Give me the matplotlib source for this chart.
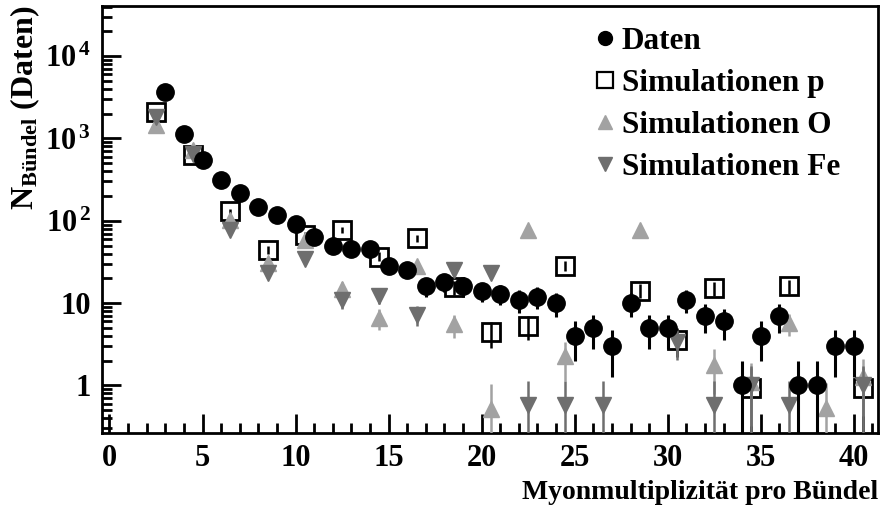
import numpy as np
import matplotlib
matplotlib.use("Agg")
import matplotlib.pyplot as plt
from matplotlib.lines import Line2D
from matplotlib.ticker import FixedLocator, FixedFormatter, LogLocator, NullFormatter, MultipleLocator

plt.rcParams["font.family"] = ["Liberation Serif", "DejaVu Serif"]
plt.rcParams["font.weight"] = "bold"
plt.rcParams["mathtext.fontset"] = "custom"
plt.rcParams["mathtext.rm"] = "Liberation Serif:bold"
plt.rcParams["mathtext.bf"] = "Liberation Serif:bold"
plt.rcParams["mathtext.it"] = "Liberation Serif:bold:italic"

# measured data (muon multiplicity per bundle)
data_x = list(range(3, 41))
data_y = [3700, 1135, 550, 315, 216, 148, 116, 91, 64, 50,
          45, 46, 28, 25, 16, 18, 16, 14, 13, 11,
          12, 10, 4, 5, 3, 10, 5, 5, 11, 7,
          6, 1, 4, 7, 1, 1, 3, 3]

# simulations at half-integer multiplicities
sim_x = [2.5, 4.5, 6.5, 8.5, 10.5, 12.5, 14.5, 16.5, 18.5, 20.5,
         22.5, 24.5, 26.5, 28.5, 30.5, 32.5, 34.5, 36.5, 38.5, 40.5]
sim_p = [2115, 630, 130, 44, 67, 77, 36.7, 61, 15.5, 4.4,
         5.3, 28.6, np.nan, 14.2, 3.6, 15.2, 0.93, 15.9, np.nan, 0.93]
sim_o = [1450, 725, 102, 31, 58, 15, 6.6, 28, 5.5, 0.51,
         78, 2.25, np.nan, 78, np.nan, 1.78, 1.1, 5.7, 0.53, 1.25]
sim_fe = [1800, 650, 78, 23, 34, 11, 12.3, 7.2, 25, 23.5,
          0.58, 0.58, 0.58, np.nan, 3.4, 0.58, 1.0, 0.58, np.nan, 1.0]

legend_labels = ["Daten", "Simulationen p", "Simulationen O", "Simulationen Fe"]


def errs(vals, w=1.0):
    # poisson errors, lower one clipped above zero
    v = np.array(vals, dtype=float)
    e = np.sqrt(v * w)
    lo = np.minimum(e, v * 0.999)
    return [lo, e]


fig = plt.figure(figsize=(8.81, 5.08), dpi=100)
ax = fig.add_axes([0.1158, 0.1476, 0.8808, 0.8404])
ax.set_yscale("log")

o_col = "#a2a2a2"
fe_col = "#6e6e6e"

ax.errorbar(sim_x, sim_p, yerr=errs(sim_p, 0.55), fmt="s", ms=12.5, mfc="none",
            mec="black", mew=2, ecolor="black", elinewidth=1.8, capsize=0, zorder=2)
ax.errorbar(sim_x, sim_o, yerr=errs(sim_o, 0.55), fmt="^", ms=11, mfc=o_col,
            mec=o_col, ecolor=o_col, elinewidth=1.8, capsize=0, zorder=3)
ax.errorbar(sim_x, sim_fe, yerr=errs(sim_fe, 0.55), fmt="v", ms=11, mfc=fe_col,
            mec=fe_col, ecolor=fe_col, elinewidth=1.8, capsize=0, zorder=4)
ax.errorbar(data_x, data_y, yerr=errs(data_y), fmt="o", ms=12.5, mfc="black",
            mec="black", ecolor="black", elinewidth=2.2, capsize=0, zorder=5)

ax.set_xlim(-0.4, 41.3)
ax.set_ylim(0.264, 40500)

ax.xaxis.set_major_locator(MultipleLocator(5))
ax.xaxis.set_minor_locator(MultipleLocator(1))
ax.yaxis.set_major_locator(FixedLocator([1, 10, 100, 1000, 10000]))
ax.yaxis.set_major_formatter(FixedFormatter(["1", "10", r"$\mathrm{10}^{\,2}$",
                                             r"$\mathrm{10}^{\,3}$", r"$\mathrm{10}^{\,4}$"]))
ax.yaxis.set_minor_locator(LogLocator(base=10, subs=np.arange(2, 10)))
ax.yaxis.set_minor_formatter(NullFormatter())

ax.tick_params(which="both", direction="in", top=False, right=False, width=2,
               labelsize=22)
ax.tick_params(which="major", length=14)
ax.tick_params(which="minor", length=7)
ax.tick_params(axis="x", pad=8)
ax.tick_params(axis="y", pad=8)
for s in ax.spines.values():
    s.set_linewidth(2)

ax.set_xlabel("Myonmultiplizität pro Bündel", fontsize=20, fontweight="bold",
              loc="right", labelpad=5)
ax.set_ylabel(r"$\mathrm{N}_{\mathrm{Bündel}}$ (Daten)", fontsize=23,
              fontweight="bold", loc="top", labelpad=2)

handles = [
    Line2D([], [], ls="none", marker="o", ms=10, mfc="black", mec="black"),
    Line2D([], [], ls="none", marker="s", ms=11, mfc="none", mec="black", mew=1.6),
    Line2D([], [], ls="none", marker="^", ms=10, mfc=o_col, mec=o_col),
    Line2D([], [], ls="none", marker="v", ms=10, mfc=fe_col, mec=fe_col),
]
ax.legend(handles, legend_labels, loc="upper left",
          bbox_to_anchor=(592 / 881, 1 - 27 / 508), bbox_transform=fig.transFigure,
          frameon=False, fontsize=22.5, handlelength=0.8, handletextpad=0.15,
          labelspacing=0.42, borderaxespad=0, borderpad=0)

fig.savefig("out.png", dpi=100)
